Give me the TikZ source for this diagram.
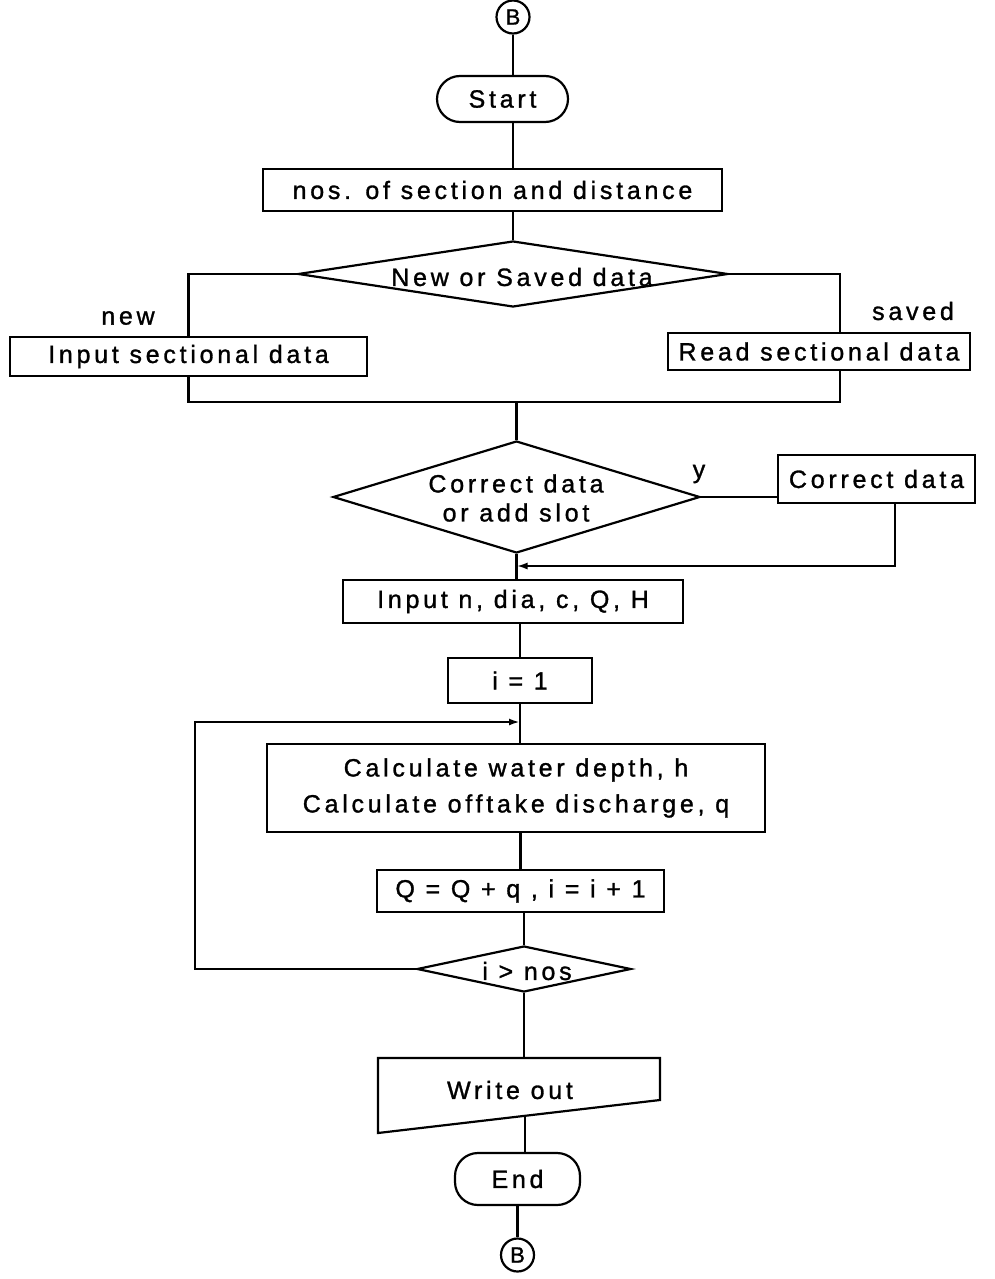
\documentclass[tikz,border=0pt]{standalone}
\usepackage{fontspec}
\setmainfont{Liberation Sans}[LetterSpace=15,FakeBold=1.2]
\usetikzlibrary{shapes.geometric,arrows.meta,calc}
\begin{document}
\begin{tikzpicture}[x=1pt,y=-1pt,line width=2.2pt,
  every node/.style={font=\fontsize{25}{36}\selectfont,inner sep=0pt},
  box/.style={draw,rectangle},
  term/.style={draw,rectangle,rounded corners=23pt},
  conn/.style={draw,circle,minimum size=33pt,font=\fontsize{22}{24}\selectfont},
  dec/.style={draw,diamond},
  arr/.style={-{Latex[length=11pt,width=7pt]}}]
\useasboundingbox (0,0) rectangle (995,1279);

% nodes
\node[conn] (b1) at (513,17) {B};
\node[term,minimum width=131pt,minimum height=46pt] (start) at (502.5,99) {Start};
\node[box,minimum width=459pt,minimum height=42pt] (nos) at (492.5,190) {nos. of section and distance};
\node[dec,minimum width=430pt,minimum height=66pt] (nsd) at (513,274) {};
\node at (522,277) {New or Saved data};
\node (newl) at (128,318) {new};
\node (savedl) at (913,311) {saved};
\node[box,minimum width=357pt,minimum height=39pt] (inp) at (188.5,356.5) {Input sectional data};
\node[box,minimum width=302pt,minimum height=37pt] (read) at (819,351.5) {Read sectional data};
\node[dec,minimum width=367pt,minimum height=112pt] (cd) at (516.5,497) {};
\node[align=center,font=\fontsize{25}{29}\selectfont] at (516,498) {Correct data\\or add slot};
\node (yl) at (699,474) {y};
\node[box,minimum width=197pt,minimum height=48pt] (corr) at (876.5,479) {Correct data};
\node[box,minimum width=340pt,minimum height=43pt] (inpn) at (513,601.5) {Input n, dia, c, Q, H};
\node[box,minimum width=144pt,minimum height=45pt] (i1) at (520,680.5) {i = 1};
\node[box,minimum width=498pt,minimum height=88pt,align=center] (calc) at (516,788) {Calculate water depth, h\\Calculate offtake discharge, q};
\node[box,minimum width=287pt,minimum height=42pt] (q) at (520.5,891) {Q = Q + q , i = i + 1};
\node[dec,minimum width=214pt,minimum height=46pt] (gt) at (524,969) {};
\node at (527,971) {i > nos};
\coordinate (wo1) at (378,1058);
\coordinate (wo2) at (660,1058);
\coordinate (wo3) at (660,1100);
\coordinate (wo4) at (378,1133);
\draw (wo1) -- (wo2) -- (wo3) -- (wo4) -- cycle;
\node (wo) at (510,1090) {Write out};
\node[term,minimum width=125pt,minimum height=52pt] (end) at (517.5,1179) {End};
\node[conn] (b2) at (517.5,1255) {B};

% helper coordinates
\coordinate (rb) at (840,0);
\coordinate (mergeY) at (0,402);
\coordinate (rx) at (895,0);
\coordinate (retY) at (0,566);
\coordinate (lx) at (195,0);
\coordinate (ly) at (0,722);
\coordinate (wob) at ($(wo4)!0.52!(wo3)$);

% connectors
\draw (b1.south) -- (b1.south |- start.north);
\draw (b1.south |- start.south) -- (b1.south |- nos.north);
\draw (nsd.north |- nos.south) -- (nsd.north);
\draw (nsd.west) -| (inp.north);
\draw (nsd.east) -| (rb |- read.north);
\draw (inp.south) |- (rb |- mergeY) -- (rb |- read.south);
\draw (cd.north |- mergeY) -- (cd.north);
\draw (cd.east) -- (cd.east -| corr.west);
\draw[arr] (rx |- corr.south) |- (cd.south |- retY);
\draw (cd.south) -- (cd.south |- inpn.north);
\draw (i1.north |- inpn.south) -- (i1.north);
\draw (i1.south) -- (i1.south |- calc.north);
\draw[arr] (gt.west) -| (lx |- ly) -- (i1.south |- ly);
\draw (q.north |- calc.south) -- (q.north);
\draw (gt.north |- q.south) -- (gt.north);
\draw (gt.south) -- (gt.south |- wo1);
\draw (wob) -- (wob |- end.north);
\draw (end.south) -- (b2.north);
\end{tikzpicture}
\end{document}
